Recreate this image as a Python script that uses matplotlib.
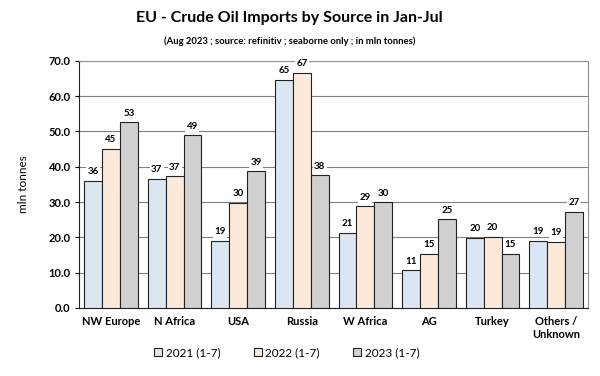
import matplotlib.pyplot as plt
import numpy as np

plt.rcParams['font.family'] = ['Lato', 'DejaVu Sans']

categories = ['NW Europe', 'N Africa', 'USA', 'Russia', 'W Africa', 'AG', 'Turkey', 'Others /\nUnknown']
y2021 = [36.1, 36.6, 19.0, 64.7, 21.3, 10.7, 19.9, 19.1]
y2022 = [45.1, 37.3, 29.8, 66.6, 28.8, 15.4, 20.1, 18.8]
y2023 = [52.6, 48.9, 38.7, 37.6, 29.9, 25.1, 15.3, 27.3]
series_names = ['2021 (1-7)', '2022 (1-7)', '2023 (1-7)']
colors = ['#dce6f2', '#fde9d9', '#d0d0d0']

fig = plt.figure(figsize=(6, 3.76), dpi=100)
ax = fig.add_axes([0.132, 0.181, 0.848, 0.657])

x = np.arange(len(categories))
w = 0.28
for i, (vals, name, c) in enumerate(zip([y2021, y2022, y2023], series_names, colors)):
    pos = x + (i - 1) * w
    bars = ax.bar(pos, vals, w, color=c, edgecolor='#222222', linewidth=0.8, label=name, zorder=3)
    for p, v in zip(pos, vals):
        ax.text(p, v + 1.3, '%d' % round(v), ha='center', va='bottom', fontsize=7, fontweight='bold',
                bbox=dict(facecolor='white', edgecolor='none', pad=1), zorder=4)

ax.set_xlim(-0.5, len(categories) - 0.5)
ax.set_ylim(0, 70)
ax.set_yticks(np.arange(0, 71, 10))
ax.set_yticklabels(['%.1f' % t for t in np.arange(0, 71, 10)], fontsize=8, fontweight='bold')
ax.set_xticks(x)
ax.set_xticklabels(categories, fontsize=8, fontweight='bold', va='top')
ax.tick_params(axis='x', length=0, pad=6)
ax.tick_params(axis='y', length=3, direction='out', pad=3)
ax.yaxis.grid(True, color='#808080', linewidth=0.8, zorder=0)
ax.set_axisbelow(True)
for s in ['top', 'right']:
    ax.spines[s].set_color('#909090')
for s in ['left', 'bottom']:
    ax.spines[s].set_color('#222222')

ax.set_ylabel('mln tonnes', fontsize=8.5, labelpad=14)

fig.text(0.483, 0.952, 'EU - Crude Oil Imports by Source in Jan-Jul', ha='center', va='center',
         fontsize=11.5, fontweight='bold')
fig.text(0.482, 0.89, '(Aug 2023 ; source: refinitiv ; seaborne only ; in mln tonnes)', ha='center',
         va='center', fontsize=6.8, fontweight='bold')

fig.legend(loc='center', bbox_to_anchor=(0.478, 0.063), ncol=3, frameon=False, fontsize=8.5,
           handlelength=0.7, handleheight=0.7, columnspacing=2.8, handletextpad=0.3)

fig.savefig('out.png', dpi=100)
